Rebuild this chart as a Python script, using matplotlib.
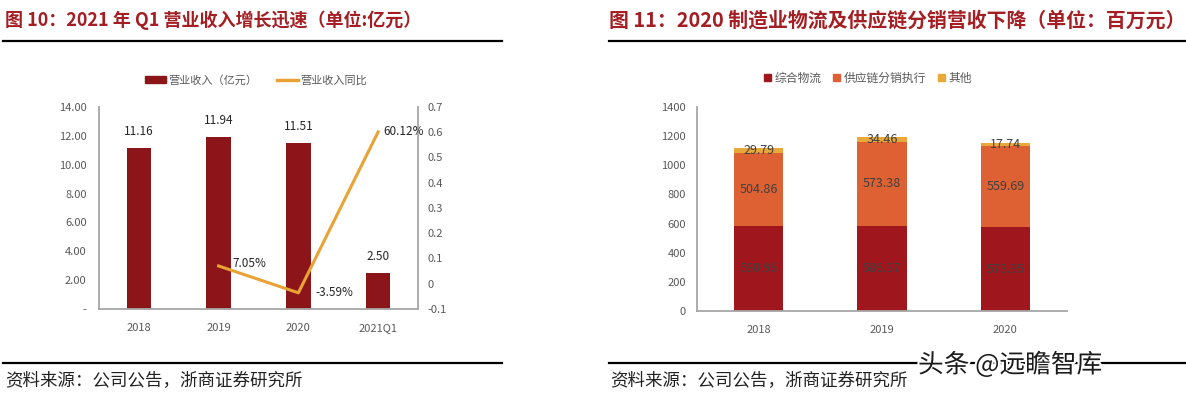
import matplotlib
matplotlib.use("Agg")
import matplotlib.pyplot as plt
import matplotlib.patheffects as pe
from matplotlib.lines import Line2D
from matplotlib.patches import Patch
import numpy as np

plt.rcParams['font.family'] = ['Noto Sans CJK SC', 'DejaVu Sans']

# ---- data: left chart ----
left_categories = ["2018", "2019", "2020", "2021Q1"]
revenue = [11.16, 11.94, 11.51, 2.50]
yoy = [None, 0.0705, -0.0359, 0.6012]
yoy_labels = ["", "7.05%", "-3.59%", "60.12%"]
left_yticks = [0, 2, 4, 6, 8, 10, 12, 14]
left_yticklabels = ["-", "2.00", "4.00", "6.00", "8.00", "10.00", "12.00", "14.00"]
right_yticks = [-0.1, 0, 0.1, 0.2, 0.3, 0.4, 0.5, 0.6, 0.7]
right_yticklabels = ["-0.1", "0", "0.1", "0.2", "0.3", "0.4", "0.5", "0.6", "0.7"]

# ---- data: right chart ----
right_categories = ["2018", "2019", "2020"]
logistics = [580.96, 586.37, 573.95]
supply_chain = [504.86, 573.38, 559.69]
others = [29.79, 34.46, 17.74]
stack_names = ["综合物流", "供应链分销执行", "其他"]
r_yticks = [0, 200, 400, 600, 800, 1000, 1200, 1400]

W, H = 1186, 396
fig = plt.figure(figsize=(W / 100, H / 100), dpi=100)
fig.patch.set_facecolor("white")

def ax_rect(x0, y0, x1, y1):
    return [x0 / W, (H - y1) / H, (x1 - x0) / W, (y1 - y0) / H]

def px(x, y):
    return x / W, (H - y) / H

title_color = "#A31F24"
tick_color = "#595959"
spine_color = "#A6A6A6"
bar_red = "#8B1519"
line_orange = "#E8A235"
c1, c2, c3 = "#A0161D", "#DD6132", "#E8A93A"

# ---- titles, rules, sources ----
fig.text(*px(5, 20), "图 10：2021 年 Q1 营业收入增长迅速（单位:亿元）", fontsize=13,
         fontweight="bold", color=title_color, va="center", ha="left")
fig.text(*px(609, 20), "图 11：2020 制造业物流及供应链分销营收下降（单位：百万元）", fontsize=14.3,
         fontweight="bold", color=title_color, va="center", ha="left")
for (xa, xb) in [(3, 502), (609, 1186)]:
    for yy in (41, 363):
        fig.add_artist(Line2D([xa / W, xb / W], [(H - yy) / H] * 2, color="black", lw=1.6))
fig.text(*px(5, 381), "资料来源：公司公告，浙商证券研究所", fontsize=12.6, color="#222222",
         va="center", ha="left")
fig.text(*px(610, 381), "资料来源：公司公告，浙商证券研究所", fontsize=12.6, color="#222222",
         va="center", ha="left")
fig.text(*px(918, 365), "头条 @远瞻智库", fontsize=18.5, color="#1a1a1a", va="center", ha="left",
         path_effects=[pe.withStroke(linewidth=3, foreground="white")], zorder=10)

# ---- left chart ----
ax = fig.add_axes(ax_rect(99, 107, 418, 309))
x = np.arange(len(left_categories))
bars = ax.bar(x, revenue, width=0.31, color=bar_red, zorder=2)
ax.set_xlim(-0.5, len(left_categories) - 0.5)
ax.set_ylim(0, 14)
ax.set_yticks(left_yticks)
ax.set_yticklabels(left_yticklabels)
ax.set_xticks(x)
ax.set_xticklabels(left_categories)
ax.tick_params(length=0, labelsize=8, colors=tick_color, pad=10)
ax.tick_params(axis="y", pad=9)
ax.spines["top"].set_visible(False)
for s in ["left", "right", "bottom"]:
    ax.spines[s].set_color(spine_color)
    ax.spines[s].set_linewidth(1.3)
for xi, v in zip(x, revenue):
    ax.annotate(f"{v:.2f}", (xi, v), xytext=(0, 7), textcoords="offset points",
                ha="center", va="bottom", fontsize=8.5, color="#262626")

ax2 = ax.twinx()
lx = [xi for xi, v in zip(x, yoy) if v is not None]
ly = [v for v in yoy if v is not None]
ax2.plot(lx, ly, color=line_orange, lw=2.2, zorder=3)
ax2.set_ylim(-0.1, 0.7)
ax2.set_yticks(right_yticks)
ax2.set_yticklabels(right_yticklabels)
ax2.tick_params(length=0, labelsize=8, colors=tick_color, pad=7)
for s in ["top", "left", "right", "bottom"]:
    ax2.spines[s].set_visible(False)
offsets = {1: (10, 2), 2: (12, 0), 3: (4, 0)}
for xi, v, lab in zip(x, yoy, yoy_labels):
    if v is None:
        continue
    dx, dy = offsets[int(xi)]
    ax2.annotate(lab, (xi, v), xytext=(dx, dy), textcoords="offset points",
                 ha="left", va="center", fontsize=8.5, color="#262626")

handles = [Patch(color=bar_red), Line2D([0], [0], color=line_orange, lw=2.5)]
fig.legend(handles, ["营业收入（亿元）", "营业收入同比"], loc="center",
           bbox_to_anchor=px(256, 80), ncol=2, frameon=False, fontsize=8,
           handlelength=1.9, handleheight=0.6, columnspacing=1.8, handletextpad=0.2,
           labelcolor=tick_color)

# ---- right chart ----
bx = fig.add_axes(ax_rect(697, 107, 1067, 311))
xr = np.arange(len(right_categories))
bw = 0.4
b1 = bx.bar(xr, logistics, width=bw, color=c1, zorder=2)
bottom2 = np.array(logistics)
b2 = bx.bar(xr, supply_chain, width=bw, bottom=bottom2, color=c2, zorder=2)
bottom3 = bottom2 + np.array(supply_chain)
b3 = bx.bar(xr, others, width=bw, bottom=bottom3, color=c3, zorder=2)
bx.set_xlim(-0.5, len(right_categories) - 0.5)
bx.set_ylim(0, 1400)
bx.set_yticks(r_yticks)
bx.set_xticks(xr)
bx.set_xticklabels(right_categories)
bx.tick_params(length=0, labelsize=8, colors=tick_color, pad=10)
bx.tick_params(axis="y", pad=8)
for s in ["top", "right"]:
    bx.spines[s].set_visible(False)
for s in ["left", "bottom"]:
    bx.spines[s].set_color(spine_color)
    bx.spines[s].set_linewidth(1.3)
for bars_, bottoms, vals in [(b1, np.zeros(3), logistics), (b2, bottom2, supply_chain),
                              (b3, bottom3, others)]:
    for xi, b0, v in zip(xr, bottoms, vals):
        bx.text(xi, b0 + v / 2, f"{v:.2f}", ha="center", va="center", fontsize=9,
                color="#404040", zorder=4)

rh = [Patch(color=c) for c in (c1, c2, c3)]
fig.legend(rh, stack_names, loc="center", bbox_to_anchor=px(868, 78), ncol=3,
           frameon=False, fontsize=8.5, handlelength=0.6, handleheight=0.6,
           columnspacing=1.0, handletextpad=0.3, labelcolor=tick_color)

fig.savefig("out.png", dpi=100, facecolor="white")
